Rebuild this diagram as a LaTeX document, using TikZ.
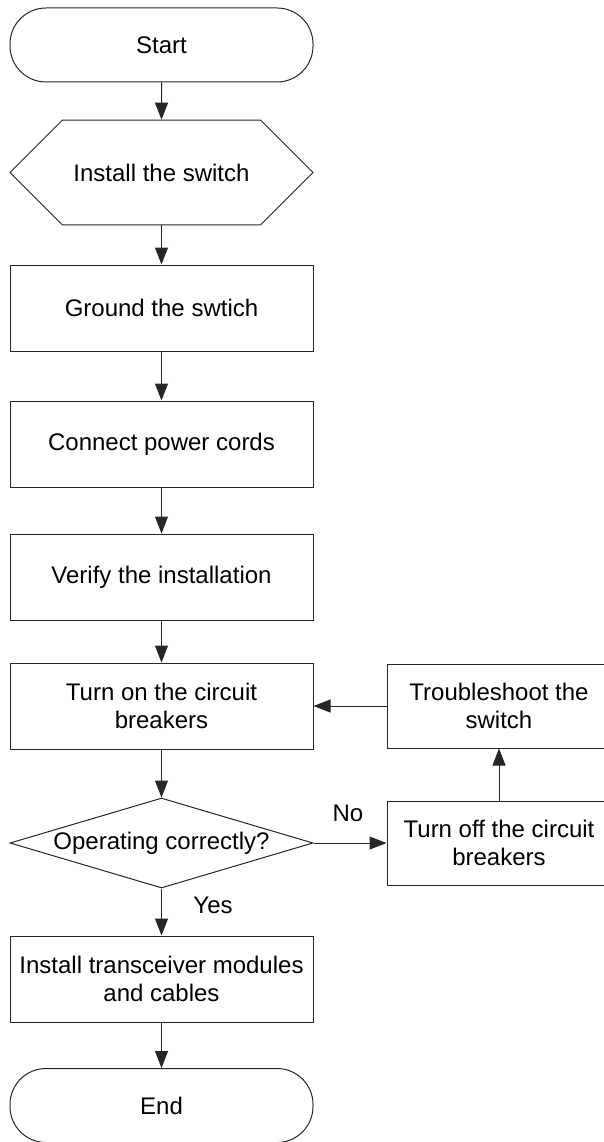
\documentclass[tikz,border=0pt]{standalone}
\usepackage{fontspec}
\setmainfont{Liberation Sans}
\usepackage{xcolor}
\usetikzlibrary{positioning,arrows.meta,shapes.geometric,shapes.misc}

\begin{document}
\begin{tikzpicture}[
    x=1pt, y=-1pt,
    font=\fontsize{24}{28}\selectfont,
    line width=1pt,
    box/.style={
        draw=black!85,
        rectangle,
        minimum width=303pt,
        minimum height=86pt,
        align=center,
        inner sep=0pt
    },
    sidebox/.style={
        box,
        minimum width=224pt,
        minimum height=84pt
    },
    terminal/.style={
        box,
        rounded corners=36pt,
        minimum height=74pt
    },
    hexbox/.style={
        box,
        chamfered rectangle,
        chamfered rectangle xsep=40pt,
        chamfered rectangle ysep=43.5pt,
        minimum height=87pt
    },
    decision/.style={
        draw=black!85,
        diamond,
        aspect=3.4,
        minimum width=303pt,
        minimum height=90pt,
        inner sep=0pt
    },
    flow/.style={
        draw=black!85,
        -{Triangle[length=17pt,width=13pt]}
    }
]

\useasboundingbox (0,0) rectangle (604,1142);

% Main column
\node[terminal] (start) at (161.5,45) {Start};
\node[hexbox] (install) at (161.5,172.5) {Install the switch};
\node[box] (ground) at (161.5,308) {Ground the swtich};
\node[box] (power) at (161.5,444) {Connect power cords};
\node[box] (verify) at (161.5,577) {Verify the installation};
\node[box] (turnon) at (161.5,706) {Turn on the circuit\\breakers};
\node[decision] (check) at (161.5,843) {Operating correctly?};
\node[box] (modules) at (161.5,979) {Install transceiver modules\\and cables};
\node[terminal] (finish) at (161.5,1105.5) {End};

% Side column
\node[sidebox] (trouble) at (499,706) {Troubleshoot the\\switch};
\node[sidebox] (turnoff) at (499,843) {Turn off the circuit\\breakers};

% Arrows
\draw[flow] (start) -- (install);
\draw[flow] (install) -- (ground);
\draw[flow] (ground) -- (power);
\draw[flow] (power) -- (verify);
\draw[flow] (verify) -- (turnon);
\draw[flow] (turnon) -- (check);
\draw[flow] (check) -- (modules);
\draw[flow] (modules) -- (finish);
\draw[flow] (check.east) -- (turnoff.west);
\draw[flow] (turnoff) -- (trouble);
\draw[flow] (trouble) -- (turnon);

% Labels
\node (yes) at (213,905) {Yes};
\node (no) at (348,813) {No};

\end{tikzpicture}
\end{document}
